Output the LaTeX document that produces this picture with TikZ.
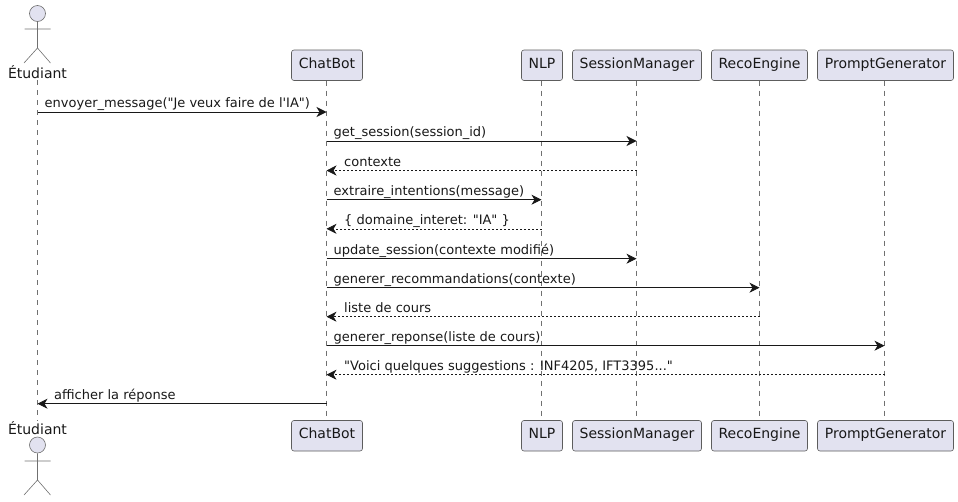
\documentclass[tikz,border=0pt]{standalone}
\usepackage{fontspec}
\setmainfont[Ligatures=TeXOff]{DejaVu Sans}
\usetikzlibrary{arrows.meta}
\definecolor{partfill}{HTML}{E2E2F0}
\definecolor{partline}{HTML}{181818}
\definecolor{lifeline}{HTML}{707070}
\tikzset{
  x=1pt,y=-1pt,
  part/.style={draw=partline!70!white,line width=0.6pt,fill=partfill,rounded corners=2.5pt,minimum height=30.5pt,inner sep=0pt,font=\fontsize{14}{16}\selectfont,text=partline},
  lifel/.style={draw=lifeline,line width=0.5pt,dash pattern=on 5pt off 5pt},
  stick/.style={draw=lifeline,line width=0.6pt,line join=round},
  head/.style={draw=lifeline,line width=0.6pt,fill=partfill,circle,minimum size=16pt,inner sep=0pt},
  actorlabel/.style={inner sep=0pt,font=\fontsize{14}{16}\selectfont,text=partline},
  tip/.style={-{Stealth[length=10pt,width=10pt,inset=3pt]}},
  msg/.style={draw=partline,line width=0.8pt,tip},
  ret/.style={draw=partline,line width=0.6pt,dash pattern=on 2pt off 2pt,tip},
  lbl/.style={anchor=base west,inner sep=0pt,font=\fontsize{13}{15}\selectfont,text=partline}
}
\begin{document}
\begin{tikzpicture}
\useasboundingbox (0,0) rectangle (958,501);
\coordinate (A1) at (37.5,80);
\coordinate (A2) at (37.5,421);
\coordinate (cC1) at (326.5,80.5); \coordinate (cC2) at (326.5,420.5);
\coordinate (cN1) at (541.5,80.5); \coordinate (cN2) at (541.5,420.5);
\coordinate (cS1) at (636.5,80.5); \coordinate (cS2) at (636.5,420.5);
\coordinate (cR1) at (759.5,80.5); \coordinate (cR2) at (759.5,420.5);
\coordinate (cP1) at (884.5,80.5); \coordinate (cP2) at (884.5,420.5);
\draw[lifel] (A1) -- (A2);
\foreach \n in {C,N,S,R,P}{ \draw[lifel] (c\n1) -- (c\n2); }
% participants
\foreach \n/\l/\r/\t in {C/291.5/362.5/ChatBot,N/521.5/562.5/NLP,S/572.5/701.5/SessionManager,R/711.5/807.5/RecoEngine,P/817.5/953.5/PromptGenerator}{
  \pgfmathsetmacro\w{\r-\l}
  \pgfmathsetmacro\c{(\r+\l)/2}
  \node[part,minimum width=\w pt] (\n1) at (\c,65.25) {\strut\t};
  \node[part,minimum width=\w pt] (\n2) at (\c,435.75) {\strut\t};
}
% actors
\node[head] (ah1) at (37.5,13.5) {};
\draw[stick] (ah1.south) -- (37.5,48) (24.5,29) -- (50.5,29) (24,63) -- (37.5,48) -- (50.5,63);
\node[actorlabel] (at1) at (37.5,72.2) {Étudiant};
\node[head] (ah2) at (37.5,445) {};
\draw[stick] (ah2.south) -- (37.5,480) (24.5,461) -- (50.5,461) (24,495) -- (37.5,480) -- (50.5,495);
\node[actorlabel] (at2) at (37.5,428.2) {Étudiant};
% messages
\coordinate (a112) at (37.5,112); \coordinate (c112) at (326.5,112);
\draw[msg] (a112) -- (c112);
\node[lbl] (m1) at (44.5,107.5) {envoyer\_message("Je veux faire de l'IA")};
\coordinate (c141) at (326.5,141); \coordinate (s141) at (636.5,141);
\draw[msg] (c141) -- (s141);
\node[lbl] (m2) at (333.5,136.5) {get\_session(session\_id)};
\coordinate (s171) at (636.5,170.5); \coordinate (c171) at (326.5,170.5);
\draw[ret] (s171) -- (c171);
\node[lbl] (m3) at (344,166) {contexte};
\coordinate (c200) at (326.5,199.7); \coordinate (n200) at (541.5,199.7);
\draw[msg] (c200) -- (n200);
\node[lbl] (m4) at (333.5,195) {extraire\_intentions(message)};
\coordinate (n229) at (541.5,228.8); \coordinate (c229) at (326.5,228.8);
\draw[ret] (n229) -- (c229);
\node[lbl] (m5) at (344,224.5) {\{ domaine\_interet: "IA" \}};
\coordinate (c259) at (326.5,258.7); \coordinate (s259) at (636.5,258.7);
\draw[msg] (c259) -- (s259);
\node[lbl] (m6) at (333.5,254) {update\_session(contexte modifié)};
\coordinate (c288) at (326.5,287.7); \coordinate (r288) at (759.5,287.7);
\draw[msg] (c288) -- (r288);
\node[lbl] (m7) at (333.5,283) {generer\_recommandations(contexte)};
\coordinate (r317) at (759.5,316.7); \coordinate (c317) at (326.5,316.7);
\draw[ret] (r317) -- (c317);
\node[lbl] (m8) at (344,312) {liste de cours};
\coordinate (c346) at (326.5,345.7); \coordinate (p346) at (884.5,345.7);
\draw[msg] (c346) -- (p346);
\node[lbl] (m9) at (333.5,341) {generer\_reponse(liste de cours)};
\coordinate (p375) at (884.5,374.7); \coordinate (c375) at (326.5,374.7);
\draw[ret] (p375) -- (c375);
\node[lbl] (m10) at (344,370.5) {"Voici quelques suggestions : INF4205, IFT3395..."};
\coordinate (c404) at (326.5,403.7); \coordinate (a404) at (37.5,403.7);
\draw[msg] (c404) -- (a404);
\node[lbl] (m11) at (54,399.5) {afficher la réponse};
\end{tikzpicture}
\end{document}
